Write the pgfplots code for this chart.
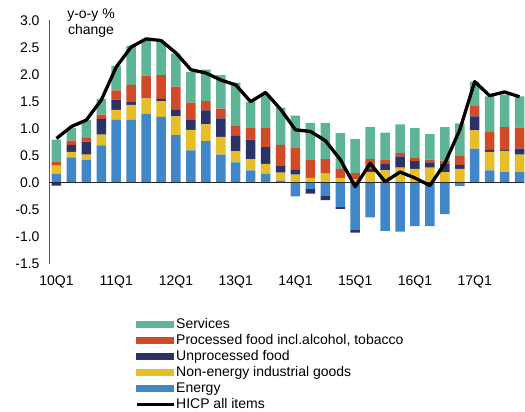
\documentclass[border=0pt]{standalone}
\usepackage{fontspec}
\setmainfont{Liberation Sans}
\usepackage{pgfplots}
\usepackage{pgfplotstable}
\pgfplotsset{compat=1.18}
\definecolor{cSv}{HTML}{5DB596}
\definecolor{cPf}{HTML}{D24B28}
\definecolor{cUf}{HTML}{2B3267}
\definecolor{cNe}{HTML}{E5BE28}
\definecolor{cEn}{HTML}{4187C8}
\pgfplotstableread{
x  enP  ne   ufP  pf   sv   enN   ufN   hicp
0  0.17 0.15 0.00 0.07 0.41 0.00  -0.05 0.82
1  0.47 0.10 0.13 0.08 0.23 0.00  0.00  1.04
2  0.42 0.10 0.24 0.07 0.33 0.00  0.00  1.16
3  0.69 0.20 0.29 0.08 0.29 0.00  0.00  1.53
4  1.17 0.18 0.19 0.17 0.45 0.00  0.00  2.14
5  1.17 0.27 0.05 0.32 0.72 0.00  0.00  2.51
6  1.28 0.28 0.02 0.40 0.66 0.00  0.00  2.66
7  1.22 0.29 0.04 0.44 0.61 0.00  0.00  2.63
8  0.88 0.35 0.12 0.43 0.61 0.00  0.00  2.40
9  0.60 0.38 0.18 0.32 0.57 0.00  0.00  2.09
10 0.77 0.31 0.26 0.17 0.58 0.00  0.00  2.03
11 0.52 0.33 0.34 0.18 0.62 0.00  0.00  1.90
12 0.38 0.20 0.29 0.18 0.80 0.00  0.00  1.81
13 0.23 0.21 0.36 0.21 0.49 0.00  0.00  1.50
14 0.17 0.18 0.31 0.35 0.62 0.00  0.00  1.67
15 0.04 0.15 0.12 0.39 0.69 0.00  0.00  1.36
16 0.00 0.15 0.10 0.39 0.60 -0.25 0.00  0.98
17 0.00 0.09 0.00 0.33 0.69 -0.11 -0.09 0.95
18 0.00 0.17 0.00 0.27 0.67 -0.23 -0.09 0.78
19 0.00 0.09 0.00 0.17 0.66 -0.45 -0.03 0.43
20 0.00 0.07 0.00 0.11 0.63 -0.86 -0.06 -0.07
21 0.00 0.20 0.06 0.18 0.59 -0.64 0.00  0.36
22 0.00 0.23 0.13 0.06 0.51 -0.89 0.00  0.02
23 0.00 0.28 0.21 0.06 0.53 -0.90 0.00  0.20
24 0.00 0.26 0.14 0.07 0.54 -0.80 0.00  0.09
25 0.00 0.28 0.10 0.05 0.47 -0.80 0.00  -0.05
26 0.00 0.20 0.15 0.06 0.62 -0.58 0.00  0.36
27 0.00 0.26 0.07 0.17 0.60 -0.06 0.00  0.98
28 0.63 0.34 0.26 0.20 0.44 0.00  0.00  1.87
29 0.23 0.34 0.04 0.33 0.66 0.00  0.00  1.61
30 0.20 0.39 0.02 0.42 0.60 0.00  0.00  1.68
31 0.20 0.32 0.11 0.39 0.58 0.00  0.00  1.59
}\data
\pgfplotsset{base/.style={width=475pt,height=243.5pt,scale only axis,
  xmin=-0.5,xmax=31.3,ymin=-1.5,ymax=3.0,clip=false}}
\begin{document}
\begin{tikzpicture}
\begin{axis}[base, ybar stacked, bar width=9.5pt,
  axis line style={draw=none},
  xticklabel pos=lower, yticklabel pos=left,
  major tick length=0pt,
  ytick={-1.5,-1,-0.5,0,0.5,1,1.5,2,2.5,3},
  yticklabel style={/pgf/number format/fixed,/pgf/number format/fixed zerofill,
    /pgf/number format/precision=1,/pgf/number format/assume math mode=true,xshift=-6pt},
  xtick={0,4,8,12,16,20,24,28},
  xticklabels={10Q1,11Q1,12Q1,13Q1,14Q1,15Q1,16Q1,17Q1},
  tick label style={font=\fontsize{14}{16}\selectfont},
  xticklabel style={yshift=-8pt}]
\draw[gray!70!black,line width=0.9pt] (axis cs:-0.5,-1.5) -- (axis cs:-0.5,3);
\addplot[fill=cEn,draw=none] table[x=x,y=enP]{\data};
\addplot[fill=cNe,draw=none] table[x=x,y=ne]{\data};
\addplot[fill=cUf,draw=none] table[x=x,y=ufP]{\data};
\addplot[fill=cPf,draw=none] table[x=x,y=pf]{\data};
\addplot[fill=cSv,draw=none] table[x=x,y=sv]{\data};
\end{axis}
\begin{axis}[base, ybar stacked, bar width=9.5pt, hide axis]
\addplot[fill=cEn,draw=none] table[x=x,y=enN]{\data};
\addplot[fill=cUf,draw=none] table[x=x,y=ufN]{\data};
\end{axis}
\begin{axis}[base, hide axis,
  legend style={at={(rel axis cs:0.181,-0.218)},anchor=north west,draw=none,fill=none,
    inner sep=0pt,row sep=2.5pt,font=\fontsize{14}{16}\selectfont,nodes={inner sep=1pt}},
  legend cell align=left]
\draw[black!85,line width=0.8pt] (axis cs:-0.5,0) -- (axis cs:31.3,0);
\addplot[black,line width=3.3pt,line join=round,forget plot] table[x=x,y=hicp]{\data};
\addlegendimage{legend image code/.code={\fill[cSv] (0pt,-3pt) rectangle (37pt,3pt);}}
\addlegendentry{Services}
\addlegendimage{legend image code/.code={\fill[cPf] (0pt,-3pt) rectangle (37pt,3pt);}}
\addlegendentry{Processed food incl.alcohol, tobacco}
\addlegendimage{legend image code/.code={\fill[cUf] (0pt,-3pt) rectangle (37pt,3pt);}}
\addlegendentry{Unprocessed food}
\addlegendimage{legend image code/.code={\fill[cNe] (0pt,-3pt) rectangle (37pt,3pt);}}
\addlegendentry{Non-energy industrial goods}
\addlegendimage{legend image code/.code={\fill[cEn] (0pt,-3pt) rectangle (37pt,3pt);}}
\addlegendentry{Energy}
\addlegendimage{legend image code/.code={\draw[black,line width=3pt] (0pt,0pt) -- (37pt,0pt);}}
\addlegendentry{HICP all items}
\end{axis}
\node[anchor=north,inner sep=0pt,align=center,font=\fontsize{14}{16}\selectfont] at (42pt,255pt) {y-o-y \%\\change};
\pgfresetboundingbox
\path (-49pt,-148pt) rectangle (476pt,264pt);
\end{tikzpicture}
\end{document}
